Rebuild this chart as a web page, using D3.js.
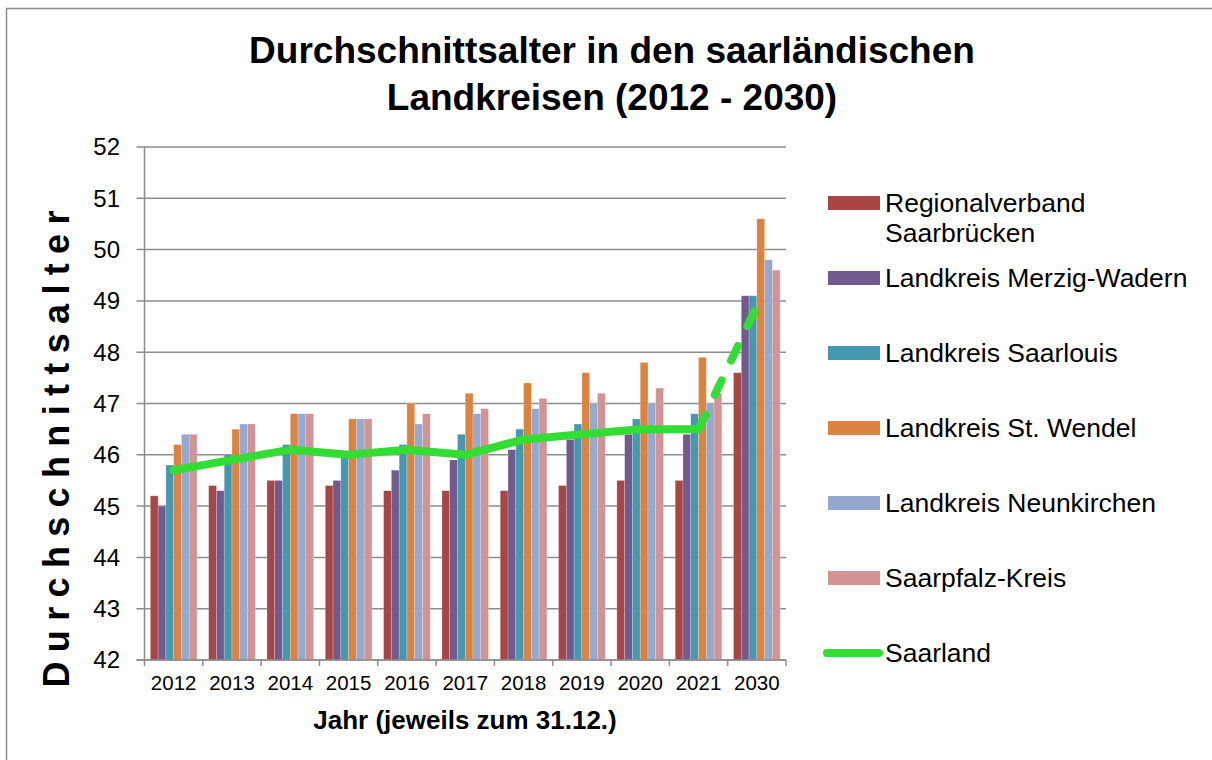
<!DOCTYPE html>
<html>
<head>
<meta charset="utf-8">
<script src="https://cdn.jsdelivr.net/npm/d3@7"></script>
<style>
  body { margin: 0; background: #fff; }
  svg { display: block; font-family: "Liberation Sans", Arial, sans-serif; }
</style>
</head>
<body>
<svg id="chart" width="1212" height="760"></svg>
<script>
// data
const years = ["2012", "2013", "2014", "2015", "2016", "2017", "2018", "2019", "2020", "2021", "2030"];
const seriesNames = ["Regionalverband Saarbrücken", "Landkreis Merzig-Wadern", "Landkreis Saarlouis",
  "Landkreis St. Wendel", "Landkreis Neunkirchen", "Saarpfalz-Kreis"];
const regionalverband = [45.2, 45.4, 45.5, 45.4, 45.3, 45.3, 45.3, 45.4, 45.5, 45.5, 47.6];
const merzigWadern   = [45.0, 45.3, 45.5, 45.5, 45.7, 45.9, 46.1, 46.3, 46.4, 46.4, 49.1];
const saarlouis      = [45.8, 46.0, 46.2, 46.0, 46.2, 46.4, 46.5, 46.6, 46.7, 46.8, 49.1];
const stWendel       = [46.2, 46.5, 46.8, 46.7, 47.0, 47.2, 47.4, 47.6, 47.8, 47.9, 50.6];
const neunkirchen    = [46.4, 46.6, 46.8, 46.7, 46.6, 46.8, 46.9, 47.0, 47.0, 47.0, 49.8];
const saarpfalz      = [46.4, 46.6, 46.8, 46.7, 46.8, 46.9, 47.1, 47.2, 47.3, 47.2, 49.6];
const saarland       = [45.7, 45.9, 46.1, 46.0, 46.1, 46.0, 46.3, 46.4, 46.5, 46.5, 48.9];
const yTicks = [42, 43, 44, 45, 46, 47, 48, 49, 50, 51, 52];

const barSeries = [regionalverband, merzigWadern, saarlouis, stWendel, neunkirchen, saarpfalz];
const colors = ["#a84646", "#715a8e", "#4499b0", "#dc843f", "#94a9d0", "#d29393"];
const lineColor = "#33dd33";

const svg = d3.select("#chart");

// outer frame
svg.append("rect")
  .attr("x", 6.5).attr("y", 8.5)
  .attr("width", 1300).attr("height", 1000)
  .attr("fill", "#fff")
  .attr("stroke", "#8c8c8c")
  .attr("stroke-width", 1.5);

const plot = {left: 144.5, right: 786, top: 147, bottom: 660};

const x = d3.scaleBand().domain(years).range([plot.left, plot.right]).padding(0);
// gap width 150% -> half a bar and a quarter on each side
const x1 = d3.scaleBand().domain(d3.range(barSeries.length))
  .range([0, x.bandwidth()]).paddingInner(0).paddingOuter(0.75);
const y = d3.scaleLinear().domain([42, 52]).range([plot.bottom, plot.top]);

// gridlines
svg.append("g")
  .selectAll("line")
  .data(yTicks)
  .join("line")
  .attr("x1", plot.left - 8).attr("x2", plot.right)
  .attr("y1", d => y(d)).attr("y2", d => y(d))
  .attr("stroke", "#8c8c8c")
  .attr("stroke-width", 1.5);

// bars
const groups = svg.append("g")
  .selectAll("g")
  .data(years)
  .join("g")
  .attr("transform", d => `translate(${x(d)},0)`);

groups.selectAll("rect")
  .data((d, i) => barSeries.map((s, k) => ({k: k, v: s[i]})))
  .join("rect")
  .attr("x", d => x1(d.k))
  .attr("width", x1.bandwidth())
  .attr("y", d => y(d.v))
  .attr("height", d => y(42) - y(d.v))
  .attr("fill", d => colors[d.k])
  .attr("stroke", "rgba(255,255,255,0.35)")
  .attr("stroke-width", 0.6);

// axes lines
svg.append("line")
  .attr("x1", plot.left).attr("x2", plot.left)
  .attr("y1", plot.top).attr("y2", plot.bottom)
  .attr("stroke", "#8c8c8c").attr("stroke-width", 1.5);
svg.append("line")
  .attr("x1", plot.left - 8).attr("x2", plot.right)
  .attr("y1", plot.bottom).attr("y2", plot.bottom)
  .attr("stroke", "#8c8c8c").attr("stroke-width", 1.5);

// x ticks at band edges
svg.append("g")
  .selectAll("line")
  .data(years.map(d => x(d)).concat([plot.right]))
  .join("line")
  .attr("x1", d => d).attr("x2", d => d)
  .attr("y1", plot.bottom).attr("y2", plot.bottom + 6)
  .attr("stroke", "#8c8c8c").attr("stroke-width", 1.5);

// y labels
svg.append("g")
  .selectAll("text")
  .data(yTicks)
  .join("text")
  .attr("x", 120)
  .attr("y", d => y(d))
  .attr("dy", "0.35em")
  .attr("text-anchor", "end")
  .attr("font-size", 24)
  .text(d => d);

// x labels
svg.append("g")
  .selectAll("text")
  .data(years)
  .join("text")
  .attr("x", d => x(d) + x.bandwidth() / 2)
  .attr("y", 690)
  .attr("text-anchor", "middle")
  .attr("font-size", 20.5)
  .text(d => d);

// Saarland line: solid up to 2021, dashed to 2030
const line = d3.line()
  .x(d => x(d.year) + x.bandwidth() / 2)
  .y(d => y(d.v));
const pts = years.map((yr, i) => ({year: yr, v: saarland[i]}));

svg.append("path")
  .datum(pts.slice(0, 10))
  .attr("d", line)
  .attr("fill", "none")
  .attr("stroke", lineColor)
  .attr("stroke-width", 8)
  .attr("stroke-linejoin", "round")
  .attr("stroke-linecap", "round");

svg.append("path")
  .datum(pts.slice(9))
  .attr("d", line)
  .attr("fill", "none")
  .attr("stroke", lineColor)
  .attr("stroke-width", 8)
  .attr("stroke-dasharray", "16,22")
  .attr("stroke-linecap", "round");

// titles
const title = svg.append("text")
  .attr("x", 612)
  .attr("text-anchor", "middle")
  .attr("font-size", 37)
  .attr("font-weight", "bold");
title.append("tspan").attr("x", 612).attr("y", 63).text("Durchschnittsalter in den saarländischen");
title.append("tspan").attr("x", 612).attr("y", 110).text("Landkreisen (2012 - 2030)");

svg.append("text")
  .attr("x", 465).attr("y", 729)
  .attr("text-anchor", "middle")
  .attr("font-size", 26)
  .attr("font-weight", "bold")
  .text("Jahr (jeweils zum 31.12.)");

svg.append("text")
  .attr("transform", "translate(69,449) rotate(-90)")
  .attr("text-anchor", "middle")
  .attr("font-size", 36)
  .attr("font-weight", "bold")
  .attr("textLength", 477)
  .attr("lengthAdjust", "spacing")
  .text("Durchschnittsalter");

// legend
const legend = svg.append("g");
const legY0 = 203, legStep = 75;
seriesNames.forEach((name, i) => {
  const cy = legY0 + i * legStep;
  legend.append("rect")
    .attr("x", 828).attr("y", cy - 7)
    .attr("width", 52).attr("height", 14)
    .attr("fill", colors[i]);
  const t = legend.append("text")
    .attr("font-size", 26.5);
  if (i === 0) {
    t.append("tspan").attr("x", 885).attr("y", cy + 8.5).text("Regionalverband");
    t.append("tspan").attr("x", 885).attr("y", cy + 39).text("Saarbrücken");
  } else {
    t.attr("x", 885).attr("y", cy + 8.5).text(name);
  }
});
const lineY = legY0 + 6 * legStep;
legend.append("line")
  .attr("x1", 827).attr("x2", 879)
  .attr("y1", lineY).attr("y2", lineY)
  .attr("stroke", lineColor)
  .attr("stroke-width", 8)
  .attr("stroke-linecap", "round");
legend.append("text")
  .attr("x", 885).attr("y", lineY + 8.5)
  .attr("font-size", 26.5)
  .text("Saarland");
</script>
</body>
</html>
